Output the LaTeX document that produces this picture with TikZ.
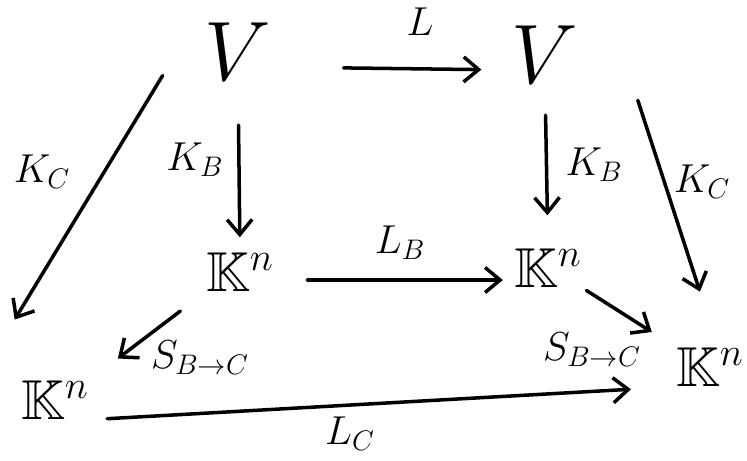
\documentclass[tikz,border=0pt]{standalone}
\usepackage{fix-cm}
\usepackage{amsmath}
\usepackage{amssymb}
\usepackage{tikz}
\usetikzlibrary{arrows.meta, positioning, calc}
\tikzset{
	space/.style   ={inner sep=0pt, font=\fontsize{48}{50}\selectfont},
	field/.style   ={inner sep=0pt, font=\fontsize{32}{34}\selectfont},
	maplabel/.style={inner sep=0pt, font=\fontsize{23}{25}\selectfont},
	maparrow/.style={-{Straight Barb[length=3mm, width=5mm]}, line width=2pt, line cap=round},
}
\begin{document}
\begin{tikzpicture}[x=0.02cm, y=-0.02cm]
	\useasboundingbox (0,0) rectangle (747,460);
	% objects
	\node[space] (vA) at (238,52) {$V$};
	\node[space] (vB) at (545,55) {$V$};
	\node[field] (kA) at (240,272) {$\mathbb{K}^n$};
	\node[field] (kB) at (548,268) {$\mathbb{K}^n$};
	\node[field] (kC) at (55,400) {$\mathbb{K}^n$};
	\node[field] (kD) at (710,367) {$\mathbb{K}^n$};
	% maps
	\draw[maparrow, shorten <=1.44cm, shorten >=0.6cm] ([yshift=-0.3cm]vA.east) -- ([yshift=-0.3cm]vB.west);
	\draw[maparrow, shorten <=0.88cm, shorten >=0.3cm] (vA.south) -- (kA.north);
	\draw[maparrow, shorten <=0.62cm, shorten >=0.66cm] (vB.south) -- (kB.north);
	\draw[maparrow, shorten <=0.55cm, shorten >=1.42cm] ([xshift=-0.55cm]vA.west) -- ([xshift=-0.86cm]kC.north west);
	\draw[maparrow, shorten <=0.34cm, shorten >=1.17cm] ([xshift=1.08cm]vB.south east) -- ([xshift=0.16cm]kD.north);
	\draw[maparrow, shorten <=0.66cm, shorten >=0.22cm] ([yshift=-0.16cm]kA.east) -- ([yshift=-0.24cm]kB.west);
	\draw[maparrow, shorten <=0.64cm, shorten >=0.72cm] (kA.south west) -- (kC.north east);
	\draw[maparrow, shorten <=0.1cm, shorten >=0.57cm] (kB.south east) -- (kD.north west);
	\draw[maparrow, shorten <=0.36cm, shorten >=0.9cm] (kC.south east) -- (kD.south west);
	% labels
	\node[maplabel] (lL)  at (420,22)  {$L$};
	\node[maplabel] (lKBa) at (195,160) {$K_B$};
	\node[maplabel] (lKCa) at (42,172)  {$K_C$};
	\node[maplabel] (lKBb) at (594,165) {$K_B$};
	\node[maplabel] (lKCb) at (702,182) {$K_C$};
	\node[maplabel] (lLB) at (400,243) {$L_B$};
	\node[maplabel] (lSa) at (200,358) {$S_{B\to C}$};
	\node[maplabel] (lSb) at (592,350) {$S_{B\to C}$};
	\node[maplabel] (lLC) at (350,434) {$L_C$};
\end{tikzpicture}
\end{document}
